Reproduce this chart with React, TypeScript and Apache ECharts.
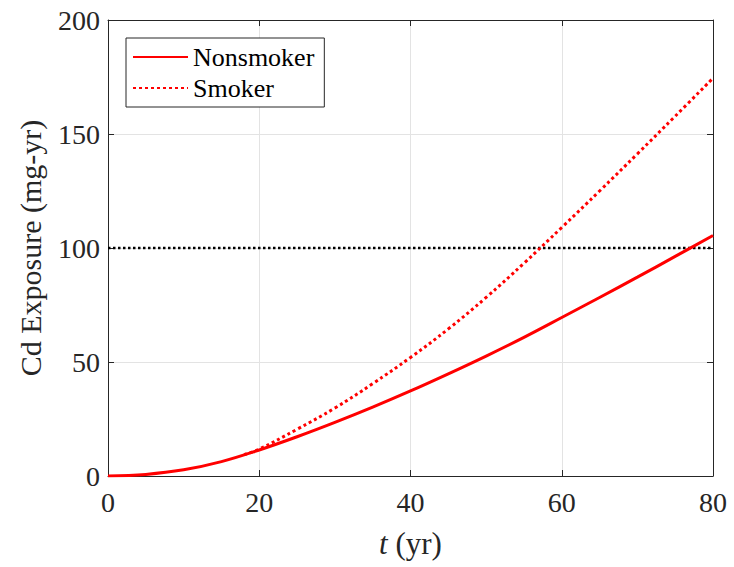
import React, { useEffect, useRef } from "react";
import * as echarts from "echarts";

const tNon = [0, 5, 10, 15, 20, 25, 30, 35, 40, 45, 50, 55, 60, 65, 70, 75, 80];
const nonsmoker = [0, 0.7, 2.7, 6.3, 11.4, 17.2, 23.5, 30.2, 37.3, 44.8, 52.6, 60.8, 69.5, 78.3, 87.2, 96.3, 105.5];
const tSmk = [18, 20, 25, 30, 35, 40, 45, 50, 55, 60, 65, 70, 75, 80];
const smoker = [9.4, 11.8, 20.5, 29.8, 40.5, 52, 64.5, 78.3, 93.3, 109, 125, 141.3, 157.8, 174.5];
const thresholdT = [0, 80];
const thresholdV = [100, 100];

const FONT = "Liberation Serif";
const AX = "#262626";

export default function App() {
  const ref = useRef<HTMLDivElement>(null);
  useEffect(() => {
    if (!ref.current) return;
    const chart = echarts.init(ref.current, undefined, { renderer: "svg" });
    const baseAxis = {
      type: "value" as const,
      axisLine: { show: true, onZero: false, lineStyle: { color: AX, width: 1 } },
      axisTick: { show: true, inside: true, length: 6, lineStyle: { color: AX, width: 1 } },
    };
    chart.setOption({
      animation: false,
      backgroundColor: "#ffffff",
      grid: { left: 108, right: 21, top: 20, bottom: 91 },
      legend: {
        data: ["Nonsmoker", "Smoker"],
        orient: "vertical",
        left: 126,
        top: 38,
        backgroundColor: "#ffffff",
        borderColor: AX,
        borderWidth: 1,
        padding: [6, 10, 6, 6],
        itemGap: 5,
        itemWidth: 55,
        itemHeight: 14,
        itemStyle: { opacity: 0 },
        textStyle: { fontFamily: FONT, fontSize: 26, color: "#000" },
      },
      xAxis: [
        {
          ...baseAxis,
          position: "bottom",
          min: 0,
          max: 80,
          interval: 20,
          axisLabel: { fontFamily: FONT, fontSize: 28, color: AX, margin: 12 },
          splitLine: { show: true, lineStyle: { color: "#e3e3e3", width: 1 } },
          name: "{it|t} (yr)",
          nameLocation: "middle",
          nameGap: 52,
          nameTextStyle: {
            fontFamily: FONT,
            fontSize: 31,
            color: AX,
            rich: { it: { fontStyle: "italic", fontFamily: FONT, fontSize: 31, color: AX } },
          },
        },
        {
          ...baseAxis,
          position: "top",
          min: 0,
          max: 80,
          interval: 20,
          axisLabel: { show: false },
          splitLine: { show: false },
        },
      ],
      yAxis: [
        {
          ...baseAxis,
          position: "left",
          min: 0,
          max: 200,
          interval: 50,
          axisLabel: { fontFamily: FONT, fontSize: 28, color: AX, margin: 8 },
          splitLine: { show: true, lineStyle: { color: "#e3e3e3", width: 1 } },
          name: "Cd Exposure (mg-yr)",
          nameLocation: "middle",
          nameGap: 63,
          nameTextStyle: { fontFamily: FONT, fontSize: 30, color: AX },
        },
        {
          ...baseAxis,
          position: "right",
          min: 0,
          max: 200,
          interval: 50,
          axisLabel: { show: false },
          splitLine: { show: false },
        },
      ],
      series: [
        {
          name: "Threshold",
          type: "line",
          xAxisIndex: 0,
          yAxisIndex: 0,
          data: thresholdT.map((t, i) => [t, thresholdV[i]]),
          symbol: "none",
          lineStyle: { color: "#000", width: 2.5, type: [2.5, 2.5] },
          z: 2,
          silent: true,
        },
        {
          name: "Nonsmoker",
          type: "line",
          xAxisIndex: 0,
          yAxisIndex: 0,
          data: tNon.map((t, i) => [t, nonsmoker[i]]),
          symbol: "none",
          smooth: 0.4,
          color: "#ff0000",
          lineStyle: { color: "#ff0000", width: 3 },
          z: 3,
        },
        {
          name: "Smoker",
          type: "line",
          xAxisIndex: 0,
          yAxisIndex: 0,
          data: tSmk.map((t, i) => [t, smoker[i]]),
          symbol: "none",
          smooth: 0.4,
          color: "#ff0000",
          lineStyle: { color: "#ff0000", width: 3, type: [3, 3] },
          z: 4,
        },
      ],
    });
    return () => chart.dispose();
  }, []);
  return <div ref={ref} style={{ position: "fixed", left: 0, top: 0, width: 734, height: 567 }} />;
}
